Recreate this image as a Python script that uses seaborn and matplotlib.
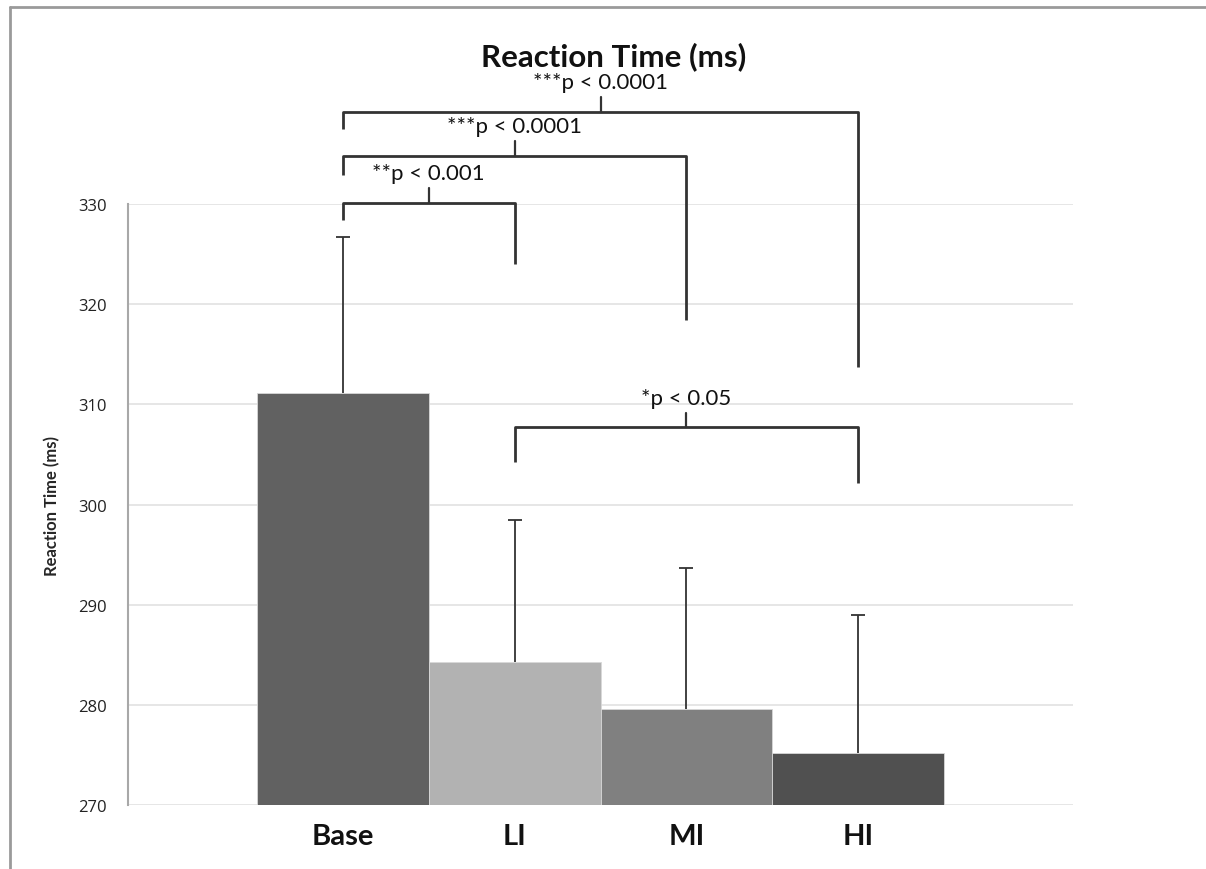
import matplotlib
matplotlib.use("Agg")
import matplotlib.pyplot as plt
import seaborn as sns
import pandas as pd
from matplotlib.lines import Line2D

# ---------- data ----------
conditions = ["Base", "LI", "MI", "HI"]
mean_rt = [311.1, 284.3, 279.6, 275.2]
err_up = [15.6, 14.2, 14.1, 13.8]
bar_colors = ["#616161", "#b2b2b2", "#808080", "#505050"]

# significance brackets: (left idx, right idx), bracket height, left leg end, right leg end, label
pairs = [(0, 1), (0, 2), (0, 3), (1, 3)]
bracket_y = [330.1, 334.8, 339.2, 307.7]
left_leg = [328.4, 332.9, 337.5, 304.2]
right_leg = [324.0, 318.4, 313.7, 302.1]
sig_labels = ["**p < 0.001", "***p < 0.0001", "***p < 0.0001", "*p < 0.05"]

sns.set_style("white")
plt.rcParams['font.family'] = ['Lato', 'DejaVu Sans']

df = pd.DataFrame({"cond": conditions, "rt": mean_rt})

fig = plt.figure(figsize=(12.06, 8.7), dpi=100)
ax = fig.add_axes([128/1206, 1-806/870, (1073-128)/1206, (806-205)/870])

sns.barplot(data=df, x="cond", y="rt", hue="cond", palette=bar_colors,
            width=1.0, legend=False, ax=ax, edgecolor="#d8d8d8", linewidth=0.6,
            zorder=2)

# one-sided (upper) error bars, hide the lower cap
_, caps, _ = ax.errorbar(range(len(conditions)), mean_rt,
                         yerr=[[0]*len(err_up), err_up], fmt="none",
                         ecolor="#333333", elinewidth=1.3, capsize=5,
                         capthick=1.3, zorder=3)
caps[0].set_visible(False)

ax.set_ylim(270, 330)
ax.set_xlim(-1.25, 4.25)
ax.set_yticks([270, 280, 290, 300, 310, 320, 330])
ax.yaxis.grid(True, color="#e2e2e2", linewidth=1.2, zorder=0)
ax.set_axisbelow(True)
for s in ["top", "right", "bottom"]:
    ax.spines[s].set_visible(False)
ax.spines["left"].set_color("#a8a8a8")
ax.spines["left"].set_linewidth(1.5)
ax.tick_params(axis="y", length=0, pad=15, labelsize=12, labelcolor="#222222",
               labelfontfamily="Open Sans")
ax.tick_params(axis="x", length=0, pad=13)
for lab in ax.get_xticklabels():
    lab.set_fontsize(21)
    lab.set_fontweight("bold")
    lab.set_color("#111111")
ax.set_xlabel("")
ax.set_ylabel("Reaction Time (ms)", fontsize=12, fontweight="bold", labelpad=13)

# brackets
lc = "#333333"
for (i, j), by, ll, rl, txt in zip(pairs, bracket_y, left_leg, right_leg, sig_labels):
    mid = (i + j) / 2
    ax.plot([i, i, j, j], [ll, by, by, rl], color=lc, lw=2, clip_on=False,
            solid_capstyle="butt", zorder=4)
    ax.plot([mid, mid], [by, by + 1.45], color=lc, lw=1.6, clip_on=False, zorder=4)
    ax.text(mid, by + 1.45 + 1.5, txt, ha="center", va="center", fontsize=16,
            color="#111111", clip_on=False)

fig.text(614/1206, 1-57/870, "Reaction Time (ms)", ha="center", va="center",
         fontsize=22.5, fontweight="bold", color="#111111")

# outer frame of the original chart box
fig.add_artist(Line2D([10/1206, 1], [1-8/870, 1-8/870], color="#9a9a9a", lw=2))
fig.add_artist(Line2D([10/1206, 10/1206], [0, 1-8/870], color="#9a9a9a", lw=2))

fig.savefig("out.png", dpi=100)
